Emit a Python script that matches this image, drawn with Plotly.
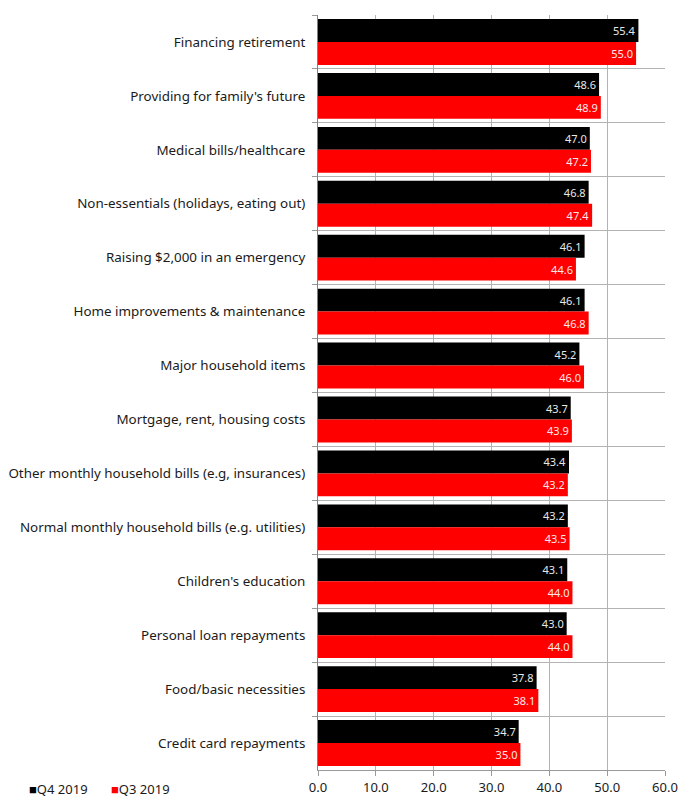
import plotly.graph_objects as go

categories = [
    "Financing retirement",
    "Providing for family's future",
    "Medical bills/healthcare",
    "Non-essentials (holidays, eating out)",
    "Raising $2,000 in an emergency",
    "Home improvements & maintenance",
    "Major household items",
    "Mortgage, rent, housing costs",
    "Other monthly household bills (e.g, insurances)",
    "Normal monthly household bills (e.g. utilities)",
    "Children's education",
    "Personal loan repayments",
    "Food/basic necessities",
    "Credit card repayments",
]
q4_2019 = [55.4, 48.6, 47.0, 46.8, 46.1, 46.1, 45.2, 43.7, 43.4, 43.2, 43.1, 43.0, 37.8, 34.7]
q3_2019 = [55.0, 48.9, 47.2, 47.4, 44.6, 46.8, 46.0, 43.9, 43.2, 43.5, 44.0, 44.0, 38.1, 35.0]
x_ticks = [0, 10, 20, 30, 40, 50, 60]

FONT = "Noto Sans"

fig = go.Figure()
fig.add_trace(go.Bar(
    name="Q4 2019", y=categories, x=q4_2019, orientation="h",
    marker=dict(color="#000000", line=dict(width=0)),
    texttemplate="%{x:.1f}", textposition="inside", insidetextanchor="end",
    textangle=0, constraintext="none",
    textfont=dict(color="#e8e8e8", size=11, family=FONT),
))
fig.add_trace(go.Bar(
    name="Q3 2019", y=categories, x=q3_2019, orientation="h",
    marker=dict(color="#ff0000", line=dict(width=0)),
    texttemplate="%{x:.1f}", textposition="inside", insidetextanchor="end",
    textangle=0, constraintext="none",
    textfont=dict(color="#ffe8e8", size=11, family=FONT),
))

fig.update_layout(
    width=680, height=799,
    margin=dict(l=318, r=15, t=15, b=29, pad=0),
    paper_bgcolor="white", plot_bgcolor="white",
    barmode="group", bargap=0.15, bargroupgap=0,
    showlegend=False,
    font=dict(family=FONT, size=13, color="#1a1a1a"),
)
fig.update_xaxes(
    range=[0, 60], tickvals=x_ticks, ticktext=[f"{v:.1f}" for v in x_ticks],
    showgrid=True, gridcolor="#b3b3b3", gridwidth=1,
    showline=True, linecolor="#999999", linewidth=1,
    ticks="outside", ticklen=5, tickcolor="#999999",
    tickfont=dict(size=13, color="#1a1a1a"), zeroline=False,
    automargin=False,
)
fig.update_yaxes(
    type="category", autorange="reversed", tickson="boundaries",
    showgrid=True, gridcolor="#b3b3b3", gridwidth=1,
    showline=True, linecolor="#808080", linewidth=1,
    ticks="outside", ticklen=5, tickcolor="#999999",
    tickfont=dict(size=13.4, color="#1a1a1a"), ticklabelstandoff=9,
    automargin=False,
)

legend_items = [("Q4 2019", "#000000", 28), ("Q3 2019", "#ff0000", 110)]
for label, color, px in legend_items:
    fig.add_annotation(
        xref="paper", yref="paper",
        x=(px - 318) / 347, y=0,
        xanchor="left", yanchor="top", showarrow=False,
        text=f"<span style='color:{color}'>■</span>{label}",
        font=dict(size=13, family=FONT, color="#1a1a1a"),
        borderpad=0,
        yshift=-9,
    )

fig.write_html("out.html")
